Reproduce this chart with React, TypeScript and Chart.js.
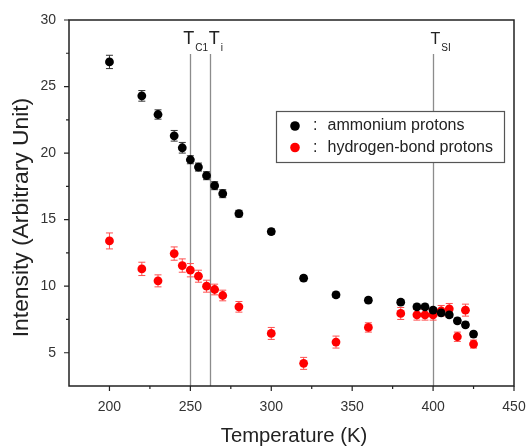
import React, { useEffect, useRef } from 'react';
import { Chart, registerables } from 'chart.js';

Chart.register(...registerables);

const temperatures = [200, 220, 230, 240, 245, 250, 255, 260, 265, 270, 280, 300, 320, 340, 360, 380, 390, 395, 400, 405, 410, 415, 420, 425];
const ammonium = [26.85, 24.3, 22.9, 21.3, 20.4, 19.5, 18.95, 18.3, 17.55, 16.95, 15.45, 14.1, 10.6, 9.35, 8.95, 8.8, 8.45, 8.45, 8.2, 8.0, 7.85, 7.4, 7.1, 6.4];
const ammoniumErr = [0.5, 0.4, 0.35, 0.4, 0.4, 0.3, 0.3, 0.3, 0.3, 0.3, 0.25, 0.2, 0.2, 0.2, 0.2, 0.2, 0.2, 0.2, 0.2, 0.2, 0.2, 0.2, 0.2, 0.2];
const hydrogen = [13.4, 11.3, 10.4, 12.45, 11.55, 11.2, 10.75, 10.0, 9.75, 9.3, 8.45, 6.45, 4.2, 5.8, 6.9, 7.95, 7.85, 7.85, 7.85, 8.15, 8.3, 6.2, 8.2, 5.65];
const hydrogenErr = [0.6, 0.5, 0.45, 0.5, 0.5, 0.5, 0.45, 0.45, 0.4, 0.4, 0.4, 0.45, 0.45, 0.45, 0.35, 0.45, 0.4, 0.4, 0.4, 0.4, 0.4, 0.35, 0.45, 0.3];

const seriesLabels = ['ammonium protons', 'hydrogen-bond protons'];
const seriesColors = ['#000000', '#ff0000'];
const errorColors = ['#333333', '#ff5050'];

const xTitle = 'Temperature (K)';
const yTitle = 'Intensity (Arbitrary Unit)';

const xMajorTicks = [200, 250, 300, 350, 400, 450];
const xMinorTicks = [225, 275, 325, 375, 425];
const yMajorTicks = [5, 10, 15, 20, 25, 30];
const yMinorTicks = [7.5, 12.5, 17.5, 22.5, 27.5];

const transitionTemps = [250, 262, 400];
const transitionMain = ['T', 'T', 'T'];
const transitionSub = ['C1', 'i', 'SI'];
const transitionLineTop = 27.45;

const FONT = '"Liberation Sans", Arial, sans-serif';

const overlayPlugin = {
  id: 'overlay',
  beforeDatasetsDraw(chart: any) {
    const { ctx, chartArea, scales } = chart;
    const x = scales.x;
    const y = scales.y;
    ctx.save();
    ctx.strokeStyle = '#8c8c8c';
    ctx.lineWidth = 1.3;
    transitionTemps.forEach((t) => {
      const px = Math.round(x.getPixelForValue(t)) + 0.5;
      ctx.beginPath();
      ctx.moveTo(px, y.getPixelForValue(transitionLineTop));
      ctx.lineTo(px, chartArea.bottom);
      ctx.stroke();
    });
    chart.data.datasets.forEach((ds: any, i: number) => {
      const errs = i === 0 ? ammoniumErr : hydrogenErr;
      ctx.strokeStyle = errorColors[i];
      ctx.lineWidth = 1;
      ds.data.forEach((pt: any, j: number) => {
        const px = x.getPixelForValue(pt.x);
        const top = y.getPixelForValue(pt.y + errs[j]);
        const bot = y.getPixelForValue(pt.y - errs[j]);
        ctx.beginPath();
        ctx.moveTo(px, top);
        ctx.lineTo(px, bot);
        ctx.moveTo(px - 3.5, top);
        ctx.lineTo(px + 3.5, top);
        ctx.moveTo(px - 3.5, bot);
        ctx.lineTo(px + 3.5, bot);
        ctx.stroke();
      });
    });
    ctx.restore();
  },
  afterDraw(chart: any) {
    const { ctx, chartArea, scales } = chart;
    const x = scales.x;
    const y = scales.y;
    const { left, right, top, bottom } = chartArea;
    ctx.save();
    ctx.strokeStyle = '#222';
    ctx.lineWidth = 1.5;
    ctx.strokeRect(left, top, right - left, bottom - top);
    ctx.lineWidth = 1.2;
    ctx.beginPath();
    xMajorTicks.forEach((v) => {
      const px = x.getPixelForValue(v);
      ctx.moveTo(px, bottom);
      ctx.lineTo(px, bottom + 5);
    });
    xMinorTicks.forEach((v) => {
      const px = x.getPixelForValue(v);
      ctx.moveTo(px, bottom);
      ctx.lineTo(px, bottom + 3);
    });
    yMajorTicks.forEach((v) => {
      const py = y.getPixelForValue(v);
      ctx.moveTo(left, py);
      ctx.lineTo(left - 5, py);
    });
    yMinorTicks.forEach((v) => {
      const py = y.getPixelForValue(v);
      ctx.moveTo(left, py);
      ctx.lineTo(left - 3, py);
    });
    ctx.stroke();

    // axis titles
    ctx.fillStyle = '#222';
    ctx.textAlign = 'center';
    ctx.textBaseline = 'middle';
    ctx.font = `20.3px ${FONT}`;
    ctx.fillText(xTitle, 294, 436.5);
    ctx.save();
    ctx.translate(22, 217.5);
    ctx.rotate(-Math.PI / 2);
    ctx.font = `22.8px ${FONT}`;
    ctx.fillText(yTitle, 0, 0);
    ctx.restore();

    // transition labels
    ctx.textBaseline = 'alphabetic';
    ctx.textAlign = 'left';
    const mainOffsets = [-7, -1, -2.5];
    const mainSizes = [18, 18, 16];
    transitionTemps.forEach((t, i) => {
      const px = x.getPixelForValue(t) + mainOffsets[i];
      ctx.font = `${mainSizes[i]}px ${FONT}`;
      ctx.fillText(transitionMain[i], px, 43.5);
      const w = ctx.measureText(transitionMain[i]).width;
      ctx.font = `10px ${FONT}`;
      ctx.fillText(transitionSub[i], px + w + 1, 51);
    });

    // legend
    const lx = 276, ly = 111, lw = 228, lh = 51;
    ctx.fillStyle = '#ffffff';
    ctx.fillRect(lx, ly, lw, lh);
    ctx.strokeStyle = '#555';
    ctx.lineWidth = 1.2;
    ctx.strokeRect(lx + 0.5, ly + 0.5, lw, lh);
    const rows = [126, 147.5];
    seriesLabels.forEach((label, i) => {
      ctx.fillStyle = seriesColors[i];
      ctx.beginPath();
      ctx.arc(295, rows[i], 4.8, 0, Math.PI * 2);
      ctx.fill();
      ctx.fillStyle = '#222';
      ctx.font = `16px ${FONT}`;
      ctx.textAlign = 'left';
      ctx.textBaseline = 'middle';
      ctx.fillText(':', 313, rows[i]);
      ctx.fillText(label, 327.5, rows[i]);
    });
    ctx.restore();
  },
};

export default function App() {
  const canvasRef = useRef<HTMLCanvasElement | null>(null);

  useEffect(() => {
    if (!canvasRef.current) return;
    const chart = new Chart(canvasRef.current, {
      type: 'scatter',
      data: {
        datasets: [
          {
            label: seriesLabels[0],
            data: temperatures.map((t, i) => ({ x: t, y: ammonium[i] })),
            backgroundColor: seriesColors[0],
            borderColor: seriesColors[0],
            pointRadius: 4.4,
            pointHoverRadius: 4.4,
            borderWidth: 0,
          },
          {
            label: seriesLabels[1],
            data: temperatures.map((t, i) => ({ x: t, y: hydrogen[i] })),
            backgroundColor: seriesColors[1],
            borderColor: seriesColors[1],
            pointRadius: 4.4,
            pointHoverRadius: 4.4,
            borderWidth: 0,
          },
        ],
      },
      options: {
        animation: false,
        responsive: true,
        maintainAspectRatio: false,
        layout: { padding: { top: 20, right: 12, left: 0, bottom: 0 } },
        plugins: {
          legend: { display: false },
          tooltip: { enabled: false },
        },
        scales: {
          x: {
            type: 'linear',
            min: 175,
            max: 450,
            afterBuildTicks: (scale: any) => {
              scale.ticks = xMajorTicks.map((v) => ({ value: v }));
            },
            afterFit: (scale: any) => {
              scale.height = 62;
              scale.paddingLeft = 0;
              scale.paddingRight = 0;
            },
            grid: { display: false, drawTicks: false },
            border: { display: false },
            ticks: {
              padding: 13,
              color: '#333',
              font: { family: FONT, size: 14 },
              maxRotation: 0,
              autoSkip: false,
            },
            title: { display: false, text: xTitle },
          },
          y: {
            type: 'linear',
            min: 2.5,
            max: 30,
            afterBuildTicks: (scale: any) => {
              scale.ticks = yMajorTicks.map((v) => ({ value: v }));
            },
            afterFit: (scale: any) => {
              scale.width = 69;
              scale.paddingTop = 0;
              scale.paddingBottom = 0;
            },
            grid: { display: false, drawTicks: false },
            border: { display: false },
            ticks: {
              padding: 13,
              color: '#333',
              font: { family: FONT, size: 14 },
              autoSkip: false,
            },
            title: { display: false, text: yTitle },
          },
        },
      },
      plugins: [overlayPlugin],
    });
    return () => chart.destroy();
  }, []);

  return (
    <div style={{ position: 'fixed', left: 0, top: 0, width: 526, height: 448, background: '#fff' }}>
      <canvas ref={canvasRef} />
    </div>
  );
}
